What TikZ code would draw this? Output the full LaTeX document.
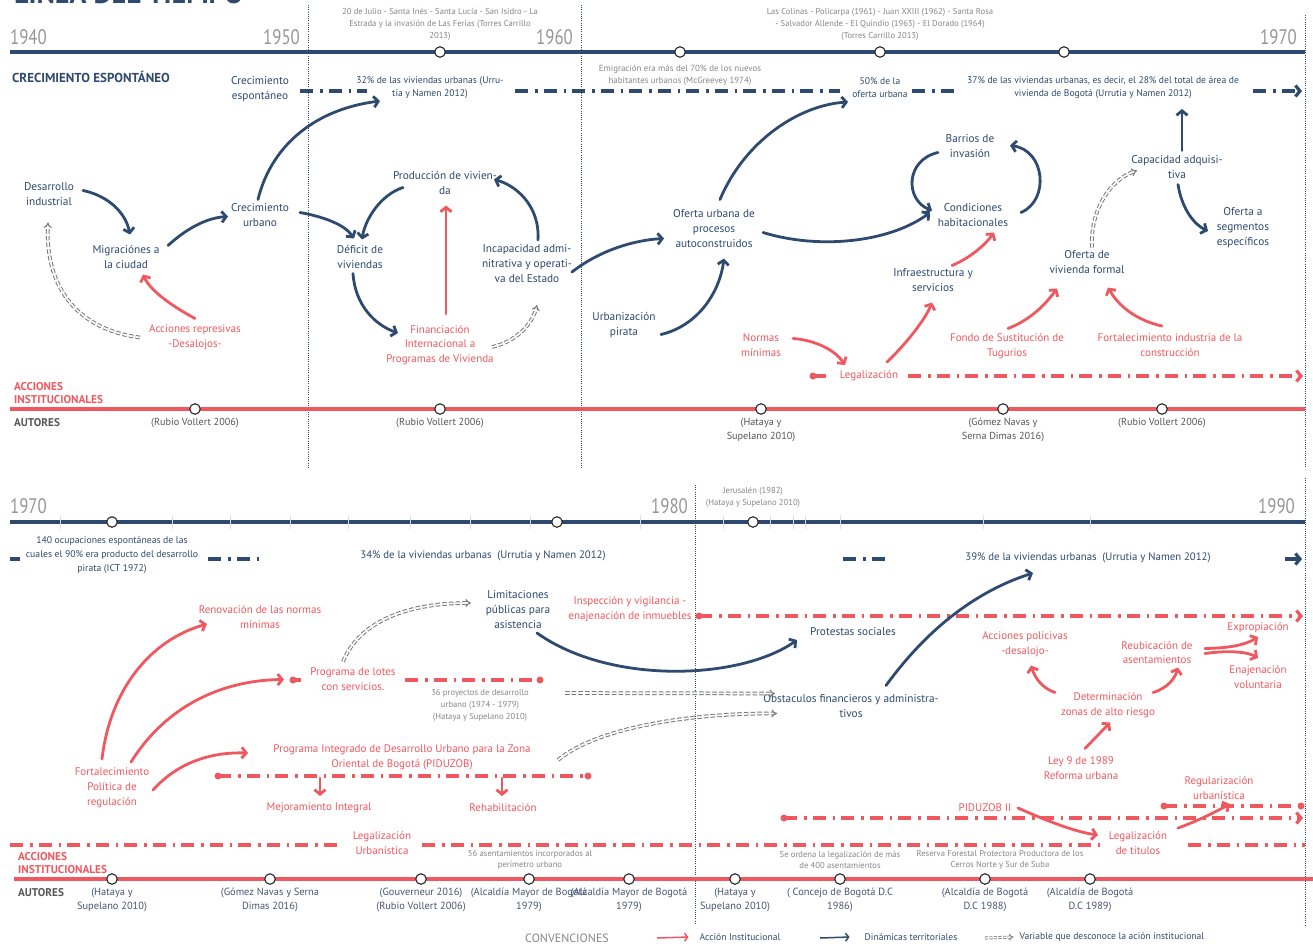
\documentclass[tikz,border=0pt]{standalone}
\usepackage{fontspec}
\setmainfont{PT Sans}
\usetikzlibrary{arrows.meta}
\definecolor{navyc}{RGB}{46,74,112}
\definecolor{redc}{RGB}{240,88,95}
\definecolor{greyc}{RGB}{135,135,135}
\definecolor{yearc}{RGB}{150,150,150}
\definecolor{autc}{RGB}{85,85,85}
\definecolor{autb}{RGB}{70,86,112}
\definecolor{dblc}{RGB}{120,120,120}
\begin{document}
\begin{tikzpicture}[x=1pt,y=-1pt,
  nv/.style={text=navyc,font=\fontsize{11.3}{15}\selectfont,align=center,inner sep=1pt},
  rd/.style={text=redc,font=\fontsize{11}{14.8}\selectfont,align=center,inner sep=1pt},
  gr/.style={text=greyc,font=\fontsize{8.6}{12}\selectfont,align=center,inner sep=1pt},
  st/.style={text=navyc,font=\fontsize{9.6}{13}\selectfont,align=center,inner sep=1pt},
  au/.style={text=autc,font=\fontsize{10.2}{14}\selectfont,align=center,inner sep=1pt},
  aub/.style={text=autb,font=\fontsize{10.4}{14}\selectfont,align=center,inner sep=1pt},
  yr/.style={text=yearc,font=\fontsize{21}{21}\selectfont,inner sep=0pt,xscale=0.8},
  hd/.style={font=\bfseries\fontsize{13}{14}\selectfont,inner sep=0pt,anchor=west,align=left},
  rdot/.style={circle,fill=redc,inner sep=0pt,minimum size=7pt},
  ms/.style={circle,draw=black!85,fill=white,line width=1.1pt,inner sep=0pt,minimum size=10.5pt},
  na/.style={draw=navyc,line width=2.8pt,line cap=round,-{Straight Barb[length=4.5pt,width=11pt]}},
  ra/.style={draw=redc,line width=2.8pt,line cap=round,-{Straight Barb[length=4.5pt,width=11pt]}},
  ga/.style={draw=dblc,line width=1pt,double=white,double distance=1.7pt,dash pattern=on 4.5pt off 2.2pt,-{Implies}},
  dd/.style={line width=3.2pt,dash pattern=on 13pt off 7pt on 2.5pt off 6pt},
  ddarrow/.style={-{Straight Barb[length=4.5pt,width=11pt]}},
  vl/.style={draw=navyc,line width=1pt,dash pattern=on 1pt off 1.2pt},
]
\useasboundingbox (0,0) rectangle (1313,945);
\fill[white] (0,0) rectangle (1313,945);
\clip (0,0) rectangle (1313,945);

% title (cut by the top edge)
\node[anchor=base west,text=navyc,font=\bfseries\fontsize{28}{28}\selectfont,inner sep=0pt] (title) at (14,3.5) {LÍNEA DEL TIEMPO};

% vertical dotted lines
\draw[vl] (308,5) -- (308,468);
\draw[vl] (581,5) -- (581,468);
\draw[vl] (1305,15) -- (1305,468);
\draw[vl] (695,485) -- (695,925);
\draw[vl] (1305,478) -- (1305,925);

% timelines
\draw[navyc,line width=3.5pt] (10,52) -- (1305,52);
\draw[redc,line width=3.5pt] (10,409) -- (1305,409);
\draw[navyc,line width=3.5pt] (10,522) -- (1305,522);
\draw[redc,line width=3.5pt] (14,879) -- (1313,879);
\foreach \x in {60,172,230,290,348,410,470,530,640,723,770,793,805,840,983,1090}
  \draw[gray!25,line width=0.6pt] (\x,515) -- (\x,529);

% years
\node[yr,anchor=west] (y40) at (10,37) {1940};
\node[yr,anchor=east] (y50) at (300,37) {1950};
\node[yr,anchor=east] (y60) at (573,37) {1960};
\node[yr,anchor=east] (y70a) at (1297,37) {1970};
\node[yr,anchor=west] (y70b) at (10,506) {1970};
\node[yr,anchor=east] (y80) at (688,506) {1980};
\node[yr,anchor=east] (y90) at (1295,506) {1990};

% headers
\node[hd,text=navyc] (hce) at (12,77) {CRECIMIENTO ESPONTÁNEO};
\node[hd,text=redc,font=\bfseries\fontsize{11.3}{13}\selectfont] (hai1) at (14,393.5) {ACCIONES\\INSTITUCIONALES};
\node[hd,text=autc,font=\bfseries\fontsize{11.2}{12}\selectfont] (hau1) at (14,423) {AUTORES};
\node[hd,text=redc,font=\bfseries\fontsize{11.3}{13}\selectfont] (hai2) at (18,863.5) {ACCIONES\\INSTITUCIONALES};
\node[hd,text=autc,font=\bfseries\fontsize{11.2}{12}\selectfont] (hau2) at (18,893) {AUTORES};

% grey notes
\node[gr] (g1) at (440,24) {20 de Julio - Santa Inés - Santa Lucía - San Isidro - La\\Estrada y la invasión de Las Ferias (Torres Carrillo\\2013)};
\node[gr] (g2) at (880,24) {Las Colinas - Policarpa (1961) - Juan XXIII (1962) - Santa Rosa\\- Salvador Allende - El Quindío (1963) - El Dorado (1964)\\(Torres Carrillo 2013)};
\node[gr,font=\fontsize{8.9}{12}\selectfont] (emig) at (680,75) {Emigración era más del 70\% de los nuevos\\habitantes urbanos (McGreevey 1974)};
\node[gr] (jeru) at (753,497) {Jerusalén (1982)\\(Hataya y Supelano 2010)};
\node[gr] (g36) at (480,705) {36 proyectos de desarrollo\\urbano (1974 - 1979)\\(Hataya y Supelano 2010)};
\node[gr,font=\fontsize{8.6}{11.5}\selectfont] (g56) at (530,860) {56 asentamientos incorporados al\\perímetro urbano};
\node[gr,font=\fontsize{8.6}{11.5}\selectfont] (gse) at (840,860) {Se ordena la legalización de más\\de 400 asentamientos};
\node[gr,font=\fontsize{8.6}{11.5}\selectfont] (gres) at (1000,860) {Reserva Forestal Protectora Productora de los\\Cerros Norte y Sur de Suba};

% navy statistic texts
\node[st] (t32) at (430,88) {32\% de las viviendas urbanas (Urru-\\tia y Namen 2012)};
\node[st] (t50) at (880,88) {50\% de la\\oferta urbana};
\node[st] (t37) at (1103,88) {37\% de las viviendas urbanas, es decir, el 28\% del total de área de\\vivienda de Bogotá (Urrutia y Namen 2012)};
\node[st,font=\fontsize{9.7}{14}\selectfont] (t140) at (112,555) {140 ocupaciones espontáneas de las\\cuales el 90\% era producto del desarrollo\\pirata (ICT 1972)};
\node[st,font=\fontsize{10.8}{12}\selectfont] (t34) at (483,556) {34\% de la viviendas urbanas~~(Urrutia y Namen 2012)};
\node[st,font=\fontsize{10.8}{12}\selectfont] (t39) at (1088,558) {39\% de la viviendas urbanas~~(Urrutia y Namen 2012)};

% navy labels
\node[nv] (creesp) at (260,89.5) {Crecimiento\\espontáneo};
\node[nv] (desind) at (49,194.5) {Desarrollo\\industrial};
\node[nv] (migr) at (126,256.5) {Migraciónes a\\la ciudad};
\node[nv] (creurb) at (260,215.5) {Crecimiento\\urbano};
\node[nv] (defv) at (360,256.5) {Déficit de\\viviendas};
\node[nv] (prodv) at (445,182.5) {Producción de vivien-\\da};
\node[nv] (incap) at (527,264) {Incapacidad admi-\\nitrativa y operati-\\va del Estado};
\node[nv] (ofurb) at (714,228.5) {Oferta urbana de\\procesos\\autoconstruidos};
\node[nv] (urbpir) at (624,325.5) {Urbanización\\pirata};
\node[nv] (barr) at (970,146.5) {Barrios de\\invasión};
\node[nv] (cond) at (973,215.5) {Condiciones\\habitacionales};
\node[nv] (infra) at (933,280.5) {Infraestructura y\\servicios};
\node[nv] (ofviv) at (1087,262.5) {Oferta de\\vivienda formal};
\node[nv] (capad) at (1177,167.5) {Capacidad adquisi-\\tiva};
\node[nv] (ofseg) at (1243,228) {Oferta a\\segmentos\\específicos};
\node[nv] (limit) at (518,610) {Limitaciones\\públicas para\\asistencia};
\node[nv] (prot) at (853,632) {Protestas sociales};
\node[nv] (obst) at (851,706.5) {Obstaculos financieros y administra-\\tivos};

% red labels
\node[rd] (accrep) at (195,337.5) {Acciones represivas\\-Desalojos-};
\node[rd] (finan) at (440,345) {Financiación\\Internacional a\\Programas de Vivienda};
\node[rd] (normas) at (761,345.5) {Normas\\mínimas};
\node[rd] (legal) at (869,376) {Legalización};
\node[rd] (fondo) at (1007,346.5) {Fondo de Sustitución de\\Tugurios};
\node[rd] (fortind) at (1170,345) {Fortalecimiento industria de la\\construcción};
\node[rd] (renov) at (260,617) {Renovación de las normas\\mínimas};
\node[rd] (fortpol) at (112,788) {Fortalecimiento\\Política de\\regulación};
\node[rd] (lotes) at (353,679.5) {Programa de lotes\\con servicios.};
\node[rd] (piduzob) at (402,757) {Programa Integrado de Desarrollo Urbano para la Zona\\Oriental de Bogotá (PIDUZOB)};
\node[rd] (mejor) at (319,808) {Mejoramiento Integral};
\node[rd] (rehab) at (503,808) {Rehabilitación};
\node[rd] (legurb) at (382,843) {Legalización\\Urbanística};
\node[rd] (inspec) at (630,609) {Inspección y vigilancia -\\enajenación de inmuebles};
\node[rd] (accpol) at (1025,644.5) {Acciones policivas\\-desalojo-};
\node[rd] (reub) at (1157,652.5) {Reubicación de\\asentamientos};
\node[rd] (expro) at (1258,628) {Expropiación};
\node[rd] (enaj) at (1258,677) {Enajenación\\voluntaria};
\node[rd] (determ) at (1108,705.5) {Determinación\\zonas de alto riesgo};
\node[rd] (ley9) at (1081,768.5) {Ley 9 de 1989\\Reforma urbana};
\node[rd] (pid2) at (985,808) {PIDUZOB II};
\node[rd] (legtit) at (1138,843) {Legalización\\de titulos};
\node[rd] (regur) at (1219,788) {Regularización\\urbanística};

% dash-dot lines (top)
\draw[dd,navyc] (300,91) -- (367,91);
\draw[dd,navyc] (515,91) -- (840,91);
\draw[dd,navyc] (912,91) -- (955,91);
\coordinate (e1) at (1302,91);
\draw[dd,navyc,ddarrow] (1253,91) -- (e1);
\node[rdot] (d1) at (813,376) {};
\draw[dd,redc] (d1.center) -- (832,376);
\coordinate (e2) at (1303,376);
\draw[dd,redc,ddarrow] (908,376) -- (e2);
% dash-dot lines (bottom)
\draw[dd,navyc] (10,559) -- (20,559);
\draw[dd,navyc] (208,559) -- (265,559);
\draw[dd,navyc] (843,559) -- (888,559);
\coordinate (e3) at (1302,559);
\draw[dd,navyc,ddarrow] (1285,559) -- (e3);
\node[rdot] (d2) at (699,616) {};
\coordinate (e4) at (1303,616);
\draw[dd,redc,ddarrow] (d2.center) -- (e4);
\node[rdot] (d3) at (293,680) {};
\draw[dd,redc] (d3.center) -- (301,680);
\node[rdot] (d4) at (540,680) {};
\draw[dd,redc] (405,680) -- (d4.center);
\node[rdot] (d5) at (218,776) {};
\node[rdot] (d6) at (588,776) {};
\draw[dd,redc] (d5.center) -- (d6.center);
\node[rdot] (d7) at (784,818) {};
\coordinate (e5) at (1303,818);
\draw[dd,redc,ddarrow] (d7.center) -- (e5);
\node[rdot] (d8) at (1164,806) {};
\node[rdot] (d9) at (1301,806) {};
\draw[dd,redc] (d8.center) -- (d9.center);
\draw[dd,redc] (10,845) -- (343,845);
\draw[dd,redc] (422,845) -- (1102,845);
\draw[dd,redc] (1188,845) -- (1305,845);

% milestones
\foreach \x/\n in {440/c1,680/c2,880/c3,1064/c4} \node[ms] (\n) at (\x,52) {};
\foreach \x/\n in {195/r1,440/r2,761/r3,1003/r4,1162/r5} \node[ms] (\n) at (\x,409) {};
\foreach \x/\n in {112/c5,557/c6,753/c7} \node[ms] (\n) at (\x,522) {};
\foreach \x/\n in {112/s1,270/s2,421/s3,529/s4,629/s5,735/s6,840/s7,985/s8,1090/s9} \node[ms] (\n) at (\x,879) {};

% authors
\node[au] (a1) at (195,423) {(Rubio Vollert 2006)};
\node[au] (a2) at (440,423) {(Rubio Vollert 2006)};
\node[au] (a3) at (761,430) {(Hataya y\\Supelano 2010)};
\node[au] (a4) at (1003,430) {(Gómez Navas y\\Serna Dimas 2016)};
\node[au] (a5) at (1162,423) {(Rubio Vollert 2006)};
\node[aub] (b1) at (112,900) {(Hataya y\\Supelano 2010)};
\node[aub] (b2) at (270,900) {(Gómez Navas y Serna\\Dimas 2016)};
\node[aub] (b3) at (421,900) {(Gouverneur 2016)\\(Rubio Vollert 2006)};
\node[aub] (b4) at (529,900) {(Alcaldía Mayor de Bogotá\\1979)};
\node[aub] (b5) at (629,900) {(Alcaldía Mayor de Bogotá\\1979)};
\node[aub] (b6) at (735,900) {(Hataya y\\Supelano 2010)};
\node[aub] (b7) at (840,900) {( Concejo de Bogotá D.C\\1986)};
\node[aub] (b8) at (985,900) {(Alcaldía de Bogotá\\D.C 1988)};
\node[aub] (b9) at (1090,900) {(Alcaldía de Bogotá\\D.C 1989)};

% navy arrows (top)
\draw[na] ([shift={(34,-4)}]desind.center) .. controls (105,195) and (125,210) .. ([shift={(4,-22)}]migr.center);
\draw[na] ([shift={(42,-11)}]migr.center) .. controls (185,230) and (205,218) .. ([shift={(-32,1)}]creurb.center);
\draw[na] ([shift={(-2,-16)}]creurb.center) .. controls (270,150) and (310,110) .. ([shift={(-50,13)}]t32.center);
\draw[na] ([shift={(40,-3)}]creurb.center) .. controls (325,217) and (345,225) .. ([shift={(-6,-18)}]defv.center);
\draw[na] ([shift={(-42,5)}]prodv.center) .. controls (380,195) and (365,220) .. ([shift={(2,-17)}]defv.center);
\draw[na] ([shift={(-7,17)}]defv.center) .. controls (355,305) and (375,325) .. ([shift={(-42,-12)}]finan.center);
\draw[na] ([shift={(11,-24)}]incap.center) .. controls (540,205) and (515,185) .. ([shift={(49,-3)}]prodv.center);
\draw[na] ([shift={(45,8)}]incap.center) .. controls (600,250) and (635,240) .. ([shift={(-50,10)}]ofurb.center);
\draw[na] ([shift={(37,9)}]urbpir.center) .. controls (700,325) and (720,290) .. ([shift={(10,30)}]ofurb.center);
\draw[na] ([shift={(6,-29)}]ofurb.center) .. controls (745,140) and (800,105) .. ([shift={(-32,14)}]t50.center);
\draw[na] ([shift={(49,4)}]ofurb.center) .. controls (820,250) and (890,242) .. ([shift={(-43,-3)}]cond.center);
\draw[na] ([shift={(-32,6)}]barr.center) .. controls (905,160) and (905,200) .. ([shift={(-41,-5)}]cond.center);
\draw[na] ([shift={(48,-3)}]cond.center) .. controls (1050,200) and (1045,150) .. ([shift={(40,-1)}]barr.center);
\draw[na] ([shift={(5,-17)}]capad.center) -- ([shift={(79,21)}]t37.center);
\draw[na] ([shift={(1,17)}]capad.center) .. controls (1182,210) and (1195,225) .. ([shift={(-35,3)}]ofseg.center);

% red arrows (top)
\draw[ra] ([shift={(0,-19)}]accrep.center) .. controls (170,305) and (150,290) .. ([shift={(17,18)}]migr.center);
\draw[ra] ([shift={(6,-31)}]finan.center) -- ([shift={(1,23)}]prodv.center);
\draw[ra] ([shift={(32,-7)}]normas.center) .. controls (815,340) and (835,350) .. ([shift={(-24,-11)}]legal.center);
\draw[ra] ([shift={(18,-14)}]legal.center) .. controls (905,345) and (925,320) .. ([shift={(-1,22)}]infra.center);
\draw[ra] ([shift={(19,-15)}]infra.center) .. controls (970,258) and (985,245) .. ([shift={(21,17)}]cond.center);
\draw[ra] ([shift={(1,-18)}]fondo.center) .. controls (1030,320) and (1045,305) .. ([shift={(-30,26)}]ofviv.center);
\draw[ra] ([shift={(-8,-19)}]fortind.center) .. controls (1135,320) and (1118,305) .. ([shift={(21,25)}]ofviv.center);

% grey double arrows (top)
\draw[ga] ([shift={(-55,0)}]accrep.center) .. controls (80,330) and (45,290) .. ([shift={(-1,28)}]desind.center);
\draw[ga] ([shift={(52,2)}]finan.center) .. controls (515,342) and (532,325) .. ([shift={(10,41)}]incap.center);
\draw[ga] ([shift={(5,-15)}]ofviv.center) .. controls (1090,210) and (1110,180) .. ([shift={(-40,3)}]capad.center);

% bottom arrows
\draw[ra] ([shift={(-10,-29)}]fortpol.center) .. controls (110,690) and (150,640) .. ([shift={(-53,7)}]renov.center);
\draw[ra] ([shift={(19,-26)}]fortpol.center) .. controls (170,700) and (230,680) .. ([shift={(-69,0)}]lotes.center);
\draw[ra] ([shift={(41,2)}]fortpol.center) .. controls (180,760) and (215,752) .. ([shift={(-154,-4)}]piduzob.center);
\draw[ga] ([shift={(-10,-18)}]lotes.center) .. controls (360,620) and (410,603) .. ([shift={(-47,-7)}]limit.center);
\draw[na] ([shift={(19,23)}]limit.center) .. controls (610,685) and (740,680) .. ([shift={(-56,8)}]prot.center);
\draw[ga] ([shift={(85,-12)}]g36.center) -- ([shift={(-76,-13)}]obst.center);
\draw[ga] ([shift={(156,3)}]piduzob.center) .. controls (600,725) and (700,713) .. ([shift={(-74,7)}]obst.center);
\draw[na] ([shift={(35,-21)}]obst.center) .. controls (930,625) and (980,590) .. ([shift={(-55,15)}]t39.center);
\draw[ra] ([shift={(-53,-13)}]determ.center) .. controls (1042,688) and (1035,678) .. ([shift={(6,21)}]accpol.center);
\draw[ra] ([shift={(45,-13)}]determ.center) .. controls (1168,688) and (1175,678) .. ([shift={(21,15)}]reub.center);
\draw[ra] ([shift={(48,-4)}]reub.center) .. controls (1230,648) and (1245,645) .. ([shift={(0,9)}]expro.center);
\draw[ra] ([shift={(48,1)}]reub.center) .. controls (1230,650) and (1248,652) .. ([shift={(0,-19)}]enaj.center);
\draw[ra] ([shift={(4,-20)}]ley9.center) .. controls (1095,738) and (1103,730) .. ([shift={(2,17)}]determ.center);
\draw[ra] ([shift={(33,0)}]pid2.center) .. controls (1045,820) and (1075,832) .. ([shift={(-40,-8)}]legtit.center);
\draw[ra] ([shift={(40,-15)}]legtit.center) .. controls (1200,820) and (1215,812) .. ([shift={(11,16)}]regur.center);
\draw[ra] ([shift={(1,-30)}]mejor.center) -- ([shift={(1,-12)}]mejor.center);
\draw[ra] ([shift={(-1,-30)}]rehab.center) -- ([shift={(-1,-12)}]rehab.center);

% legend
\node[text=greyc,font=\fontsize{12}{13}\selectfont,inner sep=1pt] (conv) at (567,938) {CONVENCIONES};
\node[text=navyc,font=\fontsize{9.6}{11}\selectfont,inner sep=1pt] (lg1) at (740,937) {Acción Institucional};
\node[text=navyc,font=\fontsize{9.6}{11}\selectfont,inner sep=1pt] (lg2) at (911,937) {Dinámicas territoriales};
\node[text=navyc,font=\fontsize{9.6}{11}\selectfont,inner sep=1pt] (lg3) at (1112,937) {Variable que desconoce la ación institucional};
\coordinate (l1a) at (657,938);
\coordinate (l2a) at (820,938);
\coordinate (l3a) at (985,938);
\draw[redc,line width=1.5pt,-{Straight Barb[length=3pt,width=8pt]}] (l1a) -- ([xshift=-10]lg1.west);
\draw[navyc,line width=1.5pt,-{Straight Barb[length=3pt,width=8pt]}] (l2a) -- ([xshift=-14]lg2.west);
\draw[dblc,line width=0.8pt,double=white,double distance=1.4pt,dash pattern=on 3pt off 1.5pt,-{Implies}] (l3a) -- ([xshift=-5]lg3.west);
\end{tikzpicture}
\end{document}
